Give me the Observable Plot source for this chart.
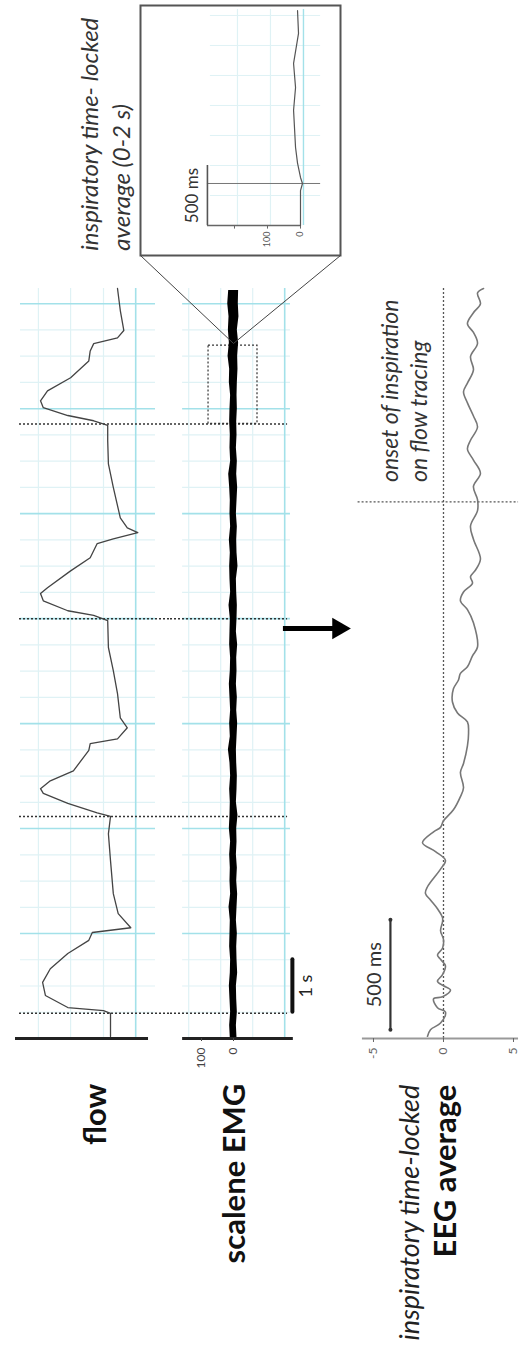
<!DOCTYPE html>
<html><head><meta charset="utf-8">
<script src="https://cdn.jsdelivr.net/npm/d3@7"></script>
<script src="https://cdn.jsdelivr.net/npm/@observablehq/plot@0.6"></script>
<style>
body{margin:0;background:#fff;}
#fig{position:relative;width:522px;height:1364px;overflow:hidden;background:#fff;}
#fig svg{position:absolute;left:0;top:0;}
</style></head><body><div id="fig"></div>
<script>
// ---------- data ----------
// flow recording (time in s, flow in arbitrary units; inspiration positive)
const flowTime = [0.04,0.48,0.53,0.59,0.82,1.07,1.33,1.62,1.87,2.02,2.11,2.38,2.76,3.39,3.90,4.23,4.30,4.48,4.67,4.76,4.91,5.10,5.49,5.62,5.71,5.92,6.11,6.57,7.01,7.45,7.96,8.06,8.15,8.34,8.48,8.59,8.91,9.16,9.43,9.52,9.64,9.73,9.92,10.50,10.95,11.39,11.68,11.77,11.87,12.02,12.15,12.34,12.59,12.91,13.10,13.24,13.35,13.49,13.87,14.29];
const flowValue = [0,0,0.10,0.61,0.93,0.97,0.86,0.61,0.31,0.26,-0.29,-0.11,-0.04,0,0.03,0,0.19,0.61,0.96,1.0,0.86,0.53,0.31,0.29,-0.1,-0.24,-0.14,-0.1,-0.04,0.03,0.04,0.24,0.61,0.96,1.0,0.9,0.57,0.29,0.19,-0.04,-0.39,-0.24,-0.14,-0.04,0.03,0.04,0.04,0.24,0.61,0.96,1.0,0.9,0.57,0.31,0.29,0.24,-0.1,-0.19,-0.14,-0.1];
// onsets of inspiration (s)
const onsetTimes = [0.48, 4.23, 8.0, 11.71];
// scalene EMG envelope (µV)
const emgTime = [0,0.25,0.5,0.75,1,1.25,1.5,1.75,2,2.25,2.5,2.75,3,3.25,3.5,3.75,4,4.25,4.5,4.75,5,5.25,5.5,5.75,6,6.25,6.5,6.75,7,7.25,7.5,7.75,8,8.25,8.5,8.75,9,9.25,9.5,9.75,10,10.25,10.5,10.75,11,11.25,11.5,11.75,12,12.25,12.5,12.75,13,13.25,13.5,13.75,14,14.25];
const emgMax = [10,12,9,11,13,10,9,12,11,10,14,9,11,10,12,9,13,11,10,12,9,11,16,10,12,9,11,13,10,9,12,11,10,14,9,11,12,10,13,9,11,10,12,15,9,11,10,12,11,9,13,12,17,13,16,14,18,15];
const emgMin = [-11,-9,-12,-10,-9,-13,-11,-10,-12,-9,-11,-13,-10,-12,-9,-11,-10,-14,-9,-11,-12,-10,-9,-11,-13,-10,-12,-9,-11,-10,-13,-9,-11,-12,-10,-9,-14,-11,-10,-12,-9,-11,-13,-10,-12,-9,-11,-10,-12,-11,-12,-14,-13,-16,-12,-17,-15,-16];
// inspiratory time-locked EEG average (s from onset, µV)
const eegTime = [-2.43,-2.40,-2.37,-2.32,-2.30,-2.26,-2.25,-2.22,-2.20,-2.18,-2.15,-2.11,-2.08,-2.06,-2.03,-1.99,-1.95,-1.91,-1.89,-1.85,-1.81,-1.78,-1.75,-1.67,-1.63,-1.59,-1.55,-1.50,-1.48,-1.45,-1.40,-1.34,-1.30,-1.23,-1.19,-1.11,-1.05,-1.00,-0.96,-0.91,-0.85,-0.81,-0.78,-0.75,-0.70,-0.66,-0.55,-0.49,-0.45,-0.41,-0.37,-0.34,-0.31,-0.26,-0.17,-0.11,-0.04,0.01,0.07,0.13,0.19,0.24,0.28,0.34,0.39,0.45,0.50,0.54,0.60,0.66,0.72,0.77,0.81,0.86,0.90,0.95,0.97];
const eegValue = [-1.14,-0.93,-0.21,0.14,-0.43,-0.71,-0.07,0.5,0,-0.43,-0.07,0.14,-0.21,-0.43,-0.07,0,-0.21,-0.07,-0.07,-0.43,-0.93,-1.29,-1.14,-0.21,0.14,-0.57,-1.5,-0.71,-0.21,0,0.71,1.21,1.43,1.21,1.43,1.71,1.79,1.71,1.0,0.64,0.71,1.07,1.21,1.71,2.07,2.43,2.14,1.71,1.21,1.43,2.07,1.93,2.29,2.64,2.14,1.93,2.43,2.43,2.14,2.64,2.14,1.71,1.93,2.43,2.14,1.71,1.43,1.71,2.14,1.93,2.43,2.14,1.71,2.14,2.64,2.43,2.86];
const eegTicks = [-5, 0, 5];
// inset: inspiratory time-locked EMG average, 0-2 s
const insetTime = [0,0.29,0.35,0.40,0.52,0.65,0.96,1.15,1.35,1.60,1.79];
const insetValue = [0,0,-6,0,9,15,21,15,21,6,9];
const insetTicks = [0, 100, 200];
const insetTickLabels = ["0", "100", ""];
const emgTicks = [0, 100];
// recording paper grid
const gridMinorTimes = [0.5,1,1.5,2.5,3,3.5,4.5,5,5.5,6.5,7,7.5,8.5,9,9.5,10.5,11,11.5,12.5,13,13.5];
const gridMajorTimes = [2,4,6,8,10,12,14];
const flowGridMinor = [1.03, 0.57, 0.1];
const flowGridMajor = [-0.36];
const emgGridMinor = [140, 40, -60];
const emgGridMajor = [-160];

// ---------- layout ----------
const W = 522, H = 1364;
const common = {width: W, height: H, style: {background: "transparent", overflow: "visible"}};
const tMain = [0, 14.29];
const flowDom = [1.3, -0.857];
const emgDom = [196.875, -209.375];
const fig = document.getElementById("fig");
const cyanLight = "#dff2f5", cyanBright = "#a3e1e9";
const dotted = {stroke: "#333", strokeDasharray: "2,2", strokeWidth: 1.5};

const flowData = flowTime.map((t, i) => ({t, v: flowValue[i]}));
const emgData = emgTime.map((t, i) => ({t, hi: emgMax[i], lo: emgMin[i]}));
const eegData = eegTime.map((t, i) => ({t, v: eegValue[i]}));
const insetData = insetTime.map((t, i) => ({t, v: insetValue[i]}));

// flow panel
fig.append(Plot.plot({...common,
  marginLeft: 19, marginRight: 352, marginTop: 288, marginBottom: 326,
  x: {domain: flowDom, axis: null}, y: {domain: tMain, axis: null},
  marks: [
    Plot.ruleY(gridMinorTimes, {x1: 1.286, x2: -0.643, stroke: cyanLight, strokeWidth: 1.2}),
    Plot.ruleX(flowGridMinor, {y1: tMain[0], y2: tMain[1], stroke: cyanLight, strokeWidth: 1.2}),
    Plot.ruleY(gridMajorTimes, {x1: 1.286, x2: -0.643, stroke: cyanBright, strokeWidth: 1.6}),
    Plot.ruleX(flowGridMajor, {y1: tMain[0], y2: tMain[1], stroke: cyanBright, strokeWidth: 1.6}),
    Plot.ruleY(onsetTimes, dotted),
    Plot.line(flowData, {x: "v", y: "t", stroke: "#444", strokeWidth: 1.3}),
    Plot.ruleY([0], {x1: 1.357, x2: -0.543, stroke: "#222", strokeWidth: 3}),
    Plot.text(["flow"], {x: 0.21, y: -0.86, rotate: -90, textAnchor: "end", fontSize: 31, fontWeight: "bold", fontFamily: "Lato", fill: "#111"})
  ]
}));

// EMG panel
fig.append(Plot.plot({...common,
  marginLeft: 170, marginRight: 222, marginTop: 288, marginBottom: 326,
  x: {domain: emgDom, axis: null}, y: {domain: tMain, axis: null},
  marks: [
    Plot.ruleY(gridMinorTimes, {x1: 159, x2: -178, stroke: cyanLight, strokeWidth: 1.2}),
    Plot.ruleX(emgGridMinor, {y1: tMain[0], y2: tMain[1], stroke: cyanLight, strokeWidth: 1.2}),
    Plot.ruleY(gridMajorTimes, {x1: 159, x2: -178, stroke: cyanBright, strokeWidth: 1.6}),
    Plot.ruleX(emgGridMajor, {y1: tMain[0], y2: tMain[1], stroke: cyanBright, strokeWidth: 1.6}),
    Plot.ruleY(onsetTimes, {...dotted, x1: emgDom[0], x2: -169}),
    Plot.rect([0], {x1: 78, x2: -75, y1: 11.71, y2: 13.2, fill: "none", ...dotted, strokeWidth: 1.2}),
    Plot.areaX(emgData, {y: "t", x1: "lo", x2: "hi", fill: "#000"}),
    Plot.ruleY([0], {x1: 159, x2: -187, stroke: "#222", strokeWidth: 3}),
    Plot.axisX({ticks: emgTicks, label: null, tickSize: 3, tickRotate: -90, tickPadding: 6, fontSize: 12, color: "#444", fontFamily: "Lato"}),
    // 1 s scale bar
    Plot.ruleX([-184], {y1: 0.5, y2: 1.5, stroke: "#111", strokeWidth: 4, strokeLinecap: "round"}),
    Plot.text(["1 s"], {x: -226, y: 1.0, rotate: -90, fontSize: 18, fontFamily: "Lato", fill: "#222"}),
    // arrow towards the EEG average
    Plot.ruleY([7.81], {x1: -156, x2: -318, stroke: "#000", strokeWidth: 5}),
    Plot.dot([7.81], {x: -328, y: d => d, symbol: "triangle", rotate: 90, r: 8, fill: "#000", stroke: "none"}),
    Plot.text(["scalene EMG"], {x: -6, y: -0.86, rotate: -90, textAnchor: "end", fontSize: 31, fontWeight: "bold", fontFamily: "Lato", fill: "#111"})
  ]
}));

// EEG panel
const eegDomT = [-2.44, 0.97];
fig.append(Plot.plot({...common,
  marginLeft: 358, marginRight: 2, marginTop: 288, marginBottom: 326,
  x: {domain: [-6.07, 5.5], axis: null}, y: {domain: eegDomT, axis: null},
  marks: [
    Plot.ruleX([0], {y1: eegDomT[0], y2: eegDomT[1], stroke: "#555", strokeDasharray: "2,2", strokeWidth: 1.3}),
    Plot.ruleY([0], {x1: -6.1, x2: 5.36, stroke: "#555", strokeDasharray: "2,2", strokeWidth: 1.3}),
    Plot.ruleY([eegDomT[0]], {x1: -5.79, x2: 5.36, stroke: "#999", strokeWidth: 2}),
    Plot.axisX({ticks: eegTicks, label: null, tickSize: 4, tickRotate: -90, tickPadding: 5, tickFormat: d => String(d), fontSize: 12, color: "#666", fontFamily: "Lato"}),
    Plot.line(eegData, {x: "v", y: "t", stroke: "#777", strokeWidth: 1.6, curve: "catmull-rom"}),
    Plot.ruleX([-3.79], {y1: -2.4, y2: -1.9, stroke: "#333", strokeWidth: 2.2}),
    Plot.dot([-2.4, -1.9], {x: -3.79, y: d => d, r: 2, fill: "#333", stroke: "none"}),
    Plot.text(["500 ms"], {x: -4.9, y: -2.15, rotate: -90, fontSize: 20, fontFamily: "Lato", fill: "#333"}),
    Plot.text(["onset of inspiration"], {x: -3.79, y: 0.09, rotate: -90, textAnchor: "start", fontSize: 23, fontStyle: "italic", fontFamily: "Lato", fill: "#333"}),
    Plot.text(["on flow tracing"], {x: -1.71, y: 0.09, rotate: -90, textAnchor: "start", fontSize: 23, fontStyle: "italic", fontFamily: "Lato", fill: "#333"}),
    Plot.text(["inspiratory time-locked"], {x: -2.36, y: -2.65, rotate: -90, textAnchor: "end", fontSize: 27, fontStyle: "italic", fontFamily: "Lato", fill: "#222"}),
    Plot.text(["EEG average"], {x: 0.21, y: -2.65, rotate: -90, textAnchor: "end", fontSize: 31, fontWeight: "bold", fontFamily: "Lato", fill: "#111"})
  ]
}));

// inset (time-locked EMG average 0-2 s)
const insetDomX = [484.8, -121.2], insetDomT = [-0.25, 1.833];
fig.append(Plot.plot({...common,
  marginLeft: 140, marginRight: 182, marginTop: 5, marginBottom: 1109,
  x: {domain: insetDomX, axis: null}, y: {domain: insetDomT, axis: null},
  marks: [
    Plot.ruleY([0.25, 0.5, 0.75, 1.0, 1.25, 1.5, 1.75], {x1: 273, x2: -61, stroke: cyanLight, strokeWidth: 1}),
    Plot.ruleX([191, 91], {y1: 0, y2: 1.8, stroke: cyanLight, strokeWidth: 1.2}),
    Plot.ruleX([-9], {y1: 0, y2: 1.8, stroke: cyanBright, strokeWidth: 1.4}),
    Plot.frame({stroke: "#555", strokeWidth: 2}),
    Plot.link([0, 1], {x1: i => insetDomX[i], y1: insetDomT[0], x2: 203, y2: -0.983, stroke: "#444", strokeWidth: 1}),
    Plot.ruleY([0.35], {x1: 282, x2: -61, stroke: "#777", strokeWidth: 1}),
    Plot.ruleY([0], {x1: 282, x2: 0, stroke: "#666", strokeWidth: 1.5}),
    Plot.ruleX(insetTicks, {y1: 0, y2: -0.03, stroke: "#666"}),
    Plot.text(insetTicks, {x: d => d, y: -0.05, text: (d, i) => insetTickLabels[i], rotate: -90, textAnchor: "end", fontSize: 9, fontFamily: "Lato", fill: "#555"}),
    Plot.ruleX([282], {y1: 0, y2: 0.5, stroke: "#555", strokeWidth: 1.6}),
    Plot.text(["500 ms"], {x: 327, y: 0.25, rotate: -90, fontSize: 17, fontFamily: "Lato", fill: "#333"}),
    Plot.line(insetData, {x: "v", y: "t", stroke: "#555", strokeWidth: 1.2}),
    Plot.text(["inspiratory time- locked"], {x: 636, y: -0.21, rotate: -90, textAnchor: "start", fontSize: 24, fontStyle: "italic", fontFamily: "Lato", fill: "#333"}),
    Plot.text(["average (0-2 s)"], {x: 539, y: -0.21, rotate: -90, textAnchor: "start", fontSize: 24, fontStyle: "italic", fontFamily: "Lato", fill: "#333"})
  ]
}));
</script></body></html>
